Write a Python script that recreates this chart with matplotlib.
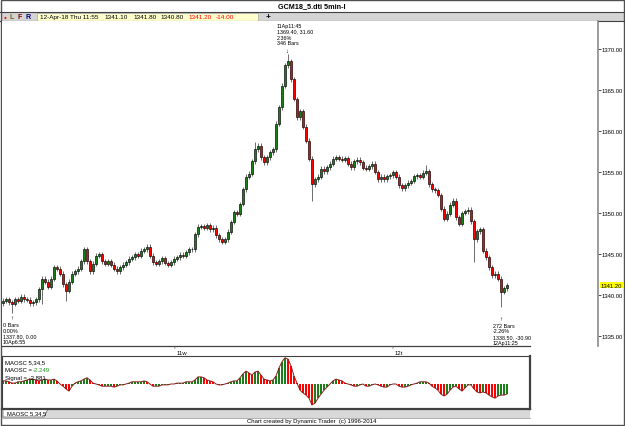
import matplotlib
matplotlib.use("Agg")
import matplotlib.pyplot as plt
import matplotlib.transforms as mtransforms
from matplotlib.patches import Rectangle, Polygon
import numpy as np

plt.rcParams['font.family'] = ['Liberation Sans', 'DejaVu Sans']

# GC June 2018, 5 min bars (10 Apr 6:55 -> 12 Apr 11:55), one candle per ~3.7 bars
closes = [
    1339.3, 1339.5, 1339.1, 1338.9, 1339.5, 1339.3, 1339.8, 1339.5, 1339.4, 1339.0,
    1339.1, 1339.5, 1340.7, 1342.0, 1341.6, 1341.0, 1342.0, 1343.4, 1343.2, 1342.6,
    1341.3, 1340.5, 1341.6, 1342.6, 1342.9, 1343.2, 1344.1, 1345.6, 1344.1, 1342.9,
    1343.8, 1344.8, 1345.0, 1344.1, 1343.8, 1344.1, 1343.7, 1343.2, 1342.9, 1343.4,
    1343.7, 1344.0, 1344.4, 1344.6, 1345.0, 1344.8, 1345.4, 1345.6, 1345.9, 1344.8,
    1344.0, 1343.8, 1344.1, 1344.5, 1343.9, 1343.7, 1344.0, 1344.4, 1344.6, 1344.9,
    1344.8, 1345.2, 1345.6, 1345.6, 1347.4, 1348.3, 1348.4, 1348.2, 1348.5, 1348.0,
    1348.2, 1347.3, 1346.8, 1346.5, 1346.8, 1347.7, 1348.9, 1350.1, 1349.9, 1351.1,
    1352.9, 1354.4, 1354.8, 1356.3, 1357.8, 1358.2, 1356.8, 1356.2, 1356.8, 1357.4,
    1357.8, 1360.9, 1362.9, 1365.5, 1368.0, 1368.5, 1366.3, 1363.9, 1361.7, 1362.4,
    1360.5, 1358.8, 1356.6, 1353.5, 1354.1, 1354.4, 1355.4, 1355.1, 1355.6, 1356.0,
    1356.6, 1356.8, 1356.6, 1356.5, 1356.7, 1356.0, 1355.6, 1356.3, 1356.5, 1356.2,
    1355.5, 1355.4, 1355.7, 1356.0, 1355.0, 1354.1, 1354.4, 1354.1, 1354.5, 1354.6,
    1355.0, 1354.4, 1353.4, 1353.0, 1353.4, 1353.7, 1353.9, 1354.5, 1354.6, 1354.4,
    1354.9, 1355.1, 1353.5, 1352.9, 1352.8, 1352.2, 1350.5, 1349.3, 1349.9, 1351.0,
    1351.5, 1349.5, 1348.7, 1350.0, 1350.2, 1350.4, 1349.0, 1346.8, 1347.8, 1348.0,
    1345.4, 1344.6, 1343.4, 1342.4, 1342.6, 1342.0, 1340.4, 1340.8, 1341.2,
]
first_open = 1339.0
wick = 0.3
# bars whose wicks stick out further than usual
spike_highs = {95: 1369.4, 141: 1355.9, 84: 1358.6}
spike_lows = {3: 1337.8, 13: 1338.9, 21: 1339.3, 103: 1351.5, 157: 1344.0, 166: 1338.5}

# MAOSC 5,34,5 histogram
maosc = [
    0.7, 0.7, 0.5, 0.2, 0.2, 0.5, 0.5, 0.7, 0.9, 1.1,
    1.1, 0.9, 0.7, 0.9, 1.1, 0.9, 0.9, 1.1, 0.7, 0.0,
    -0.5, -1.1, -1.6, -0.5, 0.2, 0.5, 0.7, 1.1, 1.4, 0.9,
    0.2, 0.0, -0.2, -0.5, -0.5, -0.5, -0.5, -0.7, -0.5, -0.2,
    -0.2, 0.0, 0.2, 0.5, 0.5, 0.5, 0.5, 0.7, 0.5, 0.0,
    -0.5, -0.5, -0.5, -0.2, -0.2, -0.2, 0.0, 0.0, 0.2, 0.2,
    0.2, 0.5, 0.5, 0.5, 0.9, 1.6, 1.6, 1.4, 0.9, 0.7,
    0.5, 0.0, -0.2, -0.2, 0.0, 0.2, 0.5, 0.7, 0.7, 1.4,
    2.3, 2.9, 2.5, 2.0, 2.7, 2.9, 2.0, 1.1, 0.9, 0.7,
    0.9, 1.8, 3.6, 5.0, 5.9, 5.6, 4.1, 1.8, 0.2, -1.4,
    -2.0, -2.5, -3.2, -4.7, -4.3, -3.2, -2.3, -1.4, -0.7, 0.0,
    0.7, 1.1, 0.9, 0.7, 0.2, 0.0, -0.2, -0.5, -0.5, -0.2,
    0.0, -0.5, -0.5, -0.2, 0.0, -0.2, -0.5, -0.7, -0.7, -0.2,
    0.0, 0.0, -0.5, -0.7, -0.7, -0.5, -0.2, 0.0, 0.2, 0.5,
    0.5, 0.5, 0.2, -0.5, -0.9, -1.4, -2.3, -2.7, -2.3, -1.4,
    -0.7, -0.5, -1.1, -1.6, -0.9, -0.2, -0.2, -1.1, -1.8, -2.0,
    -1.8, -2.0, -2.5, -2.9, -3.2, -2.7, -2.5, -2.5, -2.25,
]

price_ticks = [1335, 1340, 1345, 1350, 1355, 1360, 1365, 1370]
session_marks = [(57.3, '11w'), (130.0, '12t')]

peak_label = ['11Ap11:45', '1369.40, 31.60', '2.36%', '346 Bars']
start_label = ['0 Bars', '0.00%', '1337.80, 0.00', '10Ap6:55']
end_label = ['272 Bars', '-2.26%', '1338.50, -30.90', '12Ap11:25']

up_col = '#1a7f1a'
dn_col = '#ff0000'

# build OHLC
n = len(closes)
x = np.arange(n)
opens = np.array([first_open] + closes[:-1])
closes_a = np.array(closes)
highs = np.maximum(opens, closes_a) + wick
lows = np.minimum(opens, closes_a) - wick
for k, v in spike_highs.items():
    highs[k] = v
for k, v in spike_lows.items():
    lows[k] = v

W, H = 625, 427
fig = plt.figure(figsize=(W / 100, H / 100), dpi=100)
fig.patch.set_facecolor('white')

# window chrome drawn in pixel coords
bg = fig.add_axes([0, 0, 1, 1])
bg.set_xlim(0, W)
bg.set_ylim(H, 0)
bg.axis('off')
bg.text(312, 6.5, 'GCM18_5.dti 5min-I', ha='center', va='center', fontsize=5.2, weight='bold')
bg.plot([0, W], [12.5, 12.5], color='#404040', lw=0.8)
bg.add_patch(Rectangle((1, 13), W - 2, 9, fc='#d4d4d4', ec='none'))
bg.add_patch(Rectangle((37, 13.5), 221, 8, fc='#ffffcc', ec='#a8a8a8', lw=0.5))
bg.plot([0, W], [22, 22], color='#404040', lw=0.8)
bg.text(5, 17.5, '\u25cf', color='red', fontsize=3.5, ha='center', va='center')
bg.text(12, 17.5, 'L', color='#806000', fontsize=5, weight='bold', ha='center', va='center')
bg.text(20, 17.5, 'F', color='#800000', fontsize=5, weight='bold', ha='center', va='center')
bg.text(28, 17.5, 'R', color='#000080', fontsize=5, weight='bold', ha='center', va='center')
info = [(40, '12-Apr-18 Thu 11:55', 'black'), (104, '1341.10', 'black'),
        (133, '1341.80', 'black'), (160, '1340.80', 'black'),
        (188, '1341.20', 'red'), (216, '-14.00', 'red')]
for px, s, c in info:
    bg.text(px, 17.6, s, color=c, fontsize=4.6, ha='left', va='center')
bg.text(268, 17.5, '+', fontsize=6, weight='bold', ha='center', va='center')

# tab strip and footer
bg.add_patch(Rectangle((1, 410), 529, 8.5, fc='#d8d8d8', ec='none'))
bg.add_patch(Polygon([(3, 410), (3, 418), (44, 418), (48, 410)], closed=True,
                     fc='white', ec='#606060', lw=0.5))
bg.text(7, 414.2, 'MAOSC 5,34,5', fontsize=4.2, ha='left', va='center')
bg.plot([1, 530], [418.5, 418.5], color='#909090', lw=0.5)
bg.text(312, 422, 'Chart created by Dynamic Trader  (c) 1996-2014', fontsize=4.3,
        ha='center', va='center')
bg.add_patch(Rectangle((0.5, 0.5), W - 1.5, H - 1.5, fc='none', ec='#505050', lw=1))

# price chart
ax = fig.add_axes([2 / W, 1 - 347 / H, 596 / W, 325 / H])
ax.set_xlim((2 - 3) / 3, (598 - 3) / 3)
ax.set_ylim(1370 - (347 - 50) / 8.2, 1370 + (50 - 22) / 8.2)
ax.vlines(x, lows, highs, color='#555555', lw=0.6, zorder=2)
body_col = [up_col if c >= o else dn_col for o, c in zip(opens, closes_a)]
heights = closes_a - opens
heights = np.where(np.abs(heights) < 0.05, 0.05, heights)
ax.bar(x, heights, bottom=opens, width=0.8, color=body_col, edgecolor='black',
       linewidth=0.45, zorder=3)

for s in ['top', 'left', 'bottom']:
    ax.spines[s].set_visible(False)
ax.spines['right'].set_color('#8a8a8a')
ax.spines['right'].set_linewidth(1.2)
ax.yaxis.tick_right()
ax.set_yticks(price_ticks)
ax.set_yticklabels(['%.2f' % t for t in price_ticks])
ax.tick_params(axis='y', length=2, width=0.5, pad=0.5, labelsize=4.2)
ax.set_xticks([])
ax.plot([0, (530 - 2) / 596], [0, 0], transform=ax.transAxes, color='#404040',
        lw=0.9, clip_on=False)

# last price tag
tr = mtransforms.blended_transform_factory(ax.transAxes, ax.transData)
ax.text(1.004, closes[-1], '%.2f' % closes[-1], transform=tr, fontsize=4.2,
        ha='left', va='center',
        bbox=dict(facecolor='yellow', edgecolor='none', pad=0.6))

# session labels on the time strip
for xi, lab in session_marks:
    ax.annotate('', xy=(xi, 0), xycoords=('data', 'axes fraction'),
                xytext=(xi, -0.008), textcoords=('data', 'axes fraction'),
                arrowprops=dict(arrowstyle='-', lw=0.5, color='#606060'))
    ax.annotate(lab, xy=(xi, 0), xycoords=('data', 'axes fraction'),
                xytext=(1, -5), textcoords='offset points', fontsize=4.2,
                ha='left', va='center')


def label_block(i, yv, lines, dx, dy0, step):
    # one text line at a time so the spacing stays fixed
    for j, s in enumerate(lines):
        ax.annotate(s, xy=(i, yv), xytext=(dx, dy0 - j * step),
                    textcoords='offset points', fontsize=3.9,
                    ha='left', va='center')


# swing annotations
i_peak, i_start, i_end = 95, 3, 166
label_block(i_peak, highs[i_peak], peak_label, -8, 20.5, 4.2)
ax.annotate('\u2193', xy=(i_peak, highs[i_peak]), xytext=(-1.2, 0.8),
            textcoords='offset points', fontsize=4.5, ha='center', va='bottom')
ax.annotate('\u2191', xy=(i_start, lows[i_start]), xytext=(0, -1.5),
            textcoords='offset points', fontsize=4.5, ha='center', va='top')
label_block(i_start, lows[i_start], start_label, -6.5, -8.5, 4.0)
ax.annotate('\u2191', xy=(i_end, lows[i_end]), xytext=(0, -6),
            textcoords='offset points', fontsize=4.5, ha='center', va='top')
label_block(i_end, lows[i_end], end_label, -6, -13, 4.0)

# oscillator panel
oax = fig.add_axes([2 / W, 1 - 410 / H, 528 / W, 53 / H])
oax.set_xlim((2 - 3) / 3, (530 - 3) / 3)
oax.set_ylim(-25 * 0.225, 28 * 0.225)
osc = np.array(maosc)
rising = np.diff(osc, prepend=osc[0]) >= 0
hist_col = [up_col if r else dn_col for r in rising]
oax.bar(x, osc, width=0.5, color=hist_col, zorder=2)
oax.plot(x, osc, color='#8b2020', lw=0.7, zorder=3)
oax.set_xticks([])
oax.set_yticks([])
for s in oax.spines.values():
    s.set_color('#404040')
    s.set_linewidth(0.8)
oax.spines['bottom'].set_linewidth(1.6)
oax.spines['right'].set_linewidth(1.6)
oax.text(0.006, 0.93, 'MAOSC 5,34,5', transform=oax.transAxes, fontsize=4.3,
         ha='left', va='top')
oax.text(0.006, 0.79, 'MAOSC = ', transform=oax.transAxes, fontsize=4.3,
         ha='left', va='top')
oax.text(0.058, 0.79, '-2.249', transform=oax.transAxes, fontsize=4.3,
         ha='left', va='top', color='#1a9a1a')
oax.text(0.006, 0.65, 'Signal = -2.881', transform=oax.transAxes, fontsize=4.3,
         ha='left', va='top')

fig.savefig('out.png', dpi=100)
